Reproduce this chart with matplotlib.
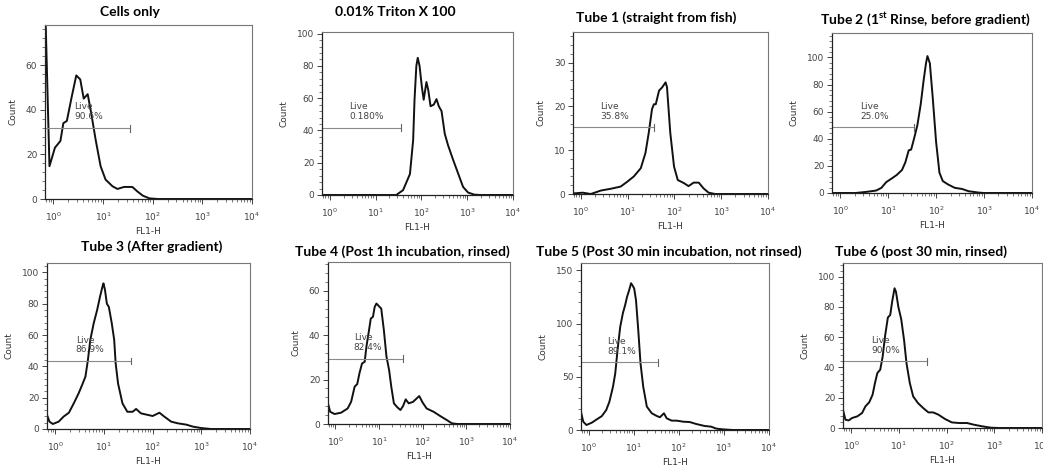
import numpy as np
import matplotlib
matplotlib.use("Agg")
import matplotlib.pyplot as plt
from matplotlib.ticker import MultipleLocator, LogLocator, NullFormatter

W, H = 1043, 466

# ---- data: x in log10(FL1-H), y = count ----
cells_x = [-0.17, -0.08, 0.03, 0.14, 0.2, 0.27, 0.37, 0.46, 0.54, 0.61, 0.69, 0.76, 0.85, 0.95,
           1.05, 1.19, 1.29, 1.42, 1.59, 1.69, 1.8, 1.93, 2.1, 4.0]
cells_y = [90, 14.7, 23, 26, 34, 35, 46, 55.4, 53.6, 45, 47, 38.6, 26.6, 14.7,
           8.7, 5.7, 4.5, 5.4, 5.4, 3.4, 1.5, 0.3, 0, 0]

triton_x = [-0.17, 1.45, 1.6, 1.75, 1.82, 1.85, 1.89, 1.92, 1.96, 2.01, 2.05, 2.11, 2.15, 2.2,
            2.27, 2.33, 2.38, 2.44, 2.51, 2.58, 2.69, 2.8, 2.91, 3.02, 3.16, 3.3, 4.0]
triton_y = [0, 0, 3, 13, 34, 59, 80, 85, 80, 67, 59, 70, 65, 55,
            56, 59.4, 55, 52, 38, 31, 22, 13.5, 5, 1.5, 0.2, 0, 0]

tube1_x = [-0.17, -0.14, 0.04, 0.21, 0.43, 0.64, 0.85, 0.99, 1.13, 1.28, 1.38, 1.45, 1.52, 1.56,
           1.6, 1.67, 1.74, 1.81, 1.84, 1.91, 1.99, 2.07, 2.2, 2.3, 2.41, 2.52, 2.62, 2.73, 2.87, 4.0]
tube1_y = [0.1, 0.15, 0.3, 0, 0.8, 1.2, 1.7, 2.8, 4, 5.9, 9.4, 14, 19.4, 20.5,
           20.5, 23.6, 24.4, 25.5, 24.4, 14, 6.3, 3.2, 2.5, 1.8, 2.6, 2.6, 1.3, 0.3, 0, 0]

tube2_x = [-0.17, 0.32, 0.54, 0.75, 0.86, 0.96, 1.07, 1.18, 1.29, 1.36, 1.43, 1.48, 1.54, 1.61,
           1.68, 1.74, 1.79, 1.82, 1.87, 1.93, 2.0, 2.07, 2.14, 2.25, 2.39, 2.54, 2.68, 2.89, 3.0, 4.0]
tube2_y = [0, 0, 0.8, 1.8, 3.8, 8, 10.6, 13.3, 17, 22.7, 31.5, 32, 40, 50,
           65.5, 83, 95.7, 101, 95.7, 70.5, 37.8, 15, 8.8, 6.3, 3.8, 3, 1.3, 0.3, 0, 0]

tube3_x = [-0.17, -0.12, -0.05, 0.07, 0.17, 0.28, 0.38, 0.48, 0.55, 0.62, 0.67, 0.72, 0.79, 0.86,
           0.92, 0.97, 0.99, 1.02, 1.06, 1.1, 1.16, 1.21, 1.24, 1.29, 1.38, 1.48, 1.59, 1.66, 1.76,
           1.9, 2.0, 2.14, 2.24, 2.38, 2.52, 2.69, 2.83, 3.0, 3.2, 4.0]
tube3_y = [9, 4.7, 3.2, 4.7, 7.9, 10.4, 16.4, 22.8, 28, 33.5, 44, 57, 67.6, 76,
           84.6, 91, 93, 89, 80, 78, 67.6, 57, 42, 29, 16.4, 11, 11, 12.8, 10,
           9, 8.3, 10.4, 7.9, 4.7, 3.6, 2.8, 1.5, 0.6, 0, 0]

tube4_x = [-0.18, -0.12, -0.02, 0.13, 0.28, 0.36, 0.44, 0.5, 0.55, 0.61, 0.67, 0.71, 0.77, 0.81,
           0.86, 0.9, 0.94, 1.0, 1.05, 1.11, 1.17, 1.23, 1.28, 1.34, 1.42, 1.49, 1.55, 1.61, 1.68,
           1.78, 1.86, 1.92, 2.0, 2.09, 2.25, 2.4, 2.55, 2.67, 2.8, 4.0]
tube4_y = [10, 5.5, 4.5, 5.1, 7, 10, 16.8, 18, 22.8, 27.3, 28, 34.8, 42.3, 47.5,
           48.3, 52.8, 54.3, 53, 52, 42.3, 30.3, 24.3, 16.8, 9.3, 7.5, 6.3, 8.1, 11.1, 9.3,
           10, 11.5, 12.6, 9.6, 7, 5.5, 3.6, 1.8, 0.3, 0, 0]

tube5_x = [-0.17, -0.12, -0.05, 0.07, 0.18, 0.29, 0.39, 0.46, 0.54, 0.59, 0.64, 0.7, 0.76, 0.81,
           0.85, 0.9, 0.94, 0.98, 1.01, 1.05, 1.1, 1.15, 1.21, 1.29, 1.4, 1.51, 1.58, 1.67, 1.73,
           1.84, 1.95, 2.1, 2.24, 2.39, 2.57, 2.72, 2.83, 2.98, 3.2, 4.0]
tube5_y = [17, 7.8, 4.7, 6.9, 10, 13, 18.8, 26.6, 40.8, 53.3, 75, 97, 110, 117.6,
           125, 131.7, 138, 135.4, 133, 122, 94, 62.7, 40.8, 22, 15.7, 13.2, 12, 15.7, 11,
           8.8, 8.8, 7.8, 7.5, 5.6, 3.8, 3.1, 1.3, 0.6, 0, 0]

tube6_x = [-0.17, -0.12, -0.05, 0.02, 0.13, 0.23, 0.3, 0.38, 0.45, 0.5, 0.55, 0.61, 0.66, 0.71,
           0.77, 0.82, 0.86, 0.91, 0.94, 0.99, 1.05, 1.11, 1.16, 1.23, 1.3, 1.4, 1.51, 1.62, 1.72,
           1.83, 1.97, 2.11, 2.26, 2.43, 2.57, 2.75, 2.93, 3.1, 4.0]
tube6_y = [12, 5.5, 5, 6.6, 7.7, 9.9, 14.3, 17, 22, 29.7, 36.3, 38.5, 47, 60.4,
           73, 74.7, 83.5, 92.3, 90, 80, 71.9, 58, 42.9, 29.7, 20.9, 16.5, 13.2, 10.3, 10.3,
           8.8, 5.9, 3.7, 3.3, 3.3, 2.2, 1.1, 0.2, 0, 0]

titles = ["Cells only", "0.01% Triton X 100", "Tube 1 (straight from fish)",
          r"Tube 2 (1$^{\mathbf{st}}$ Rinse, before gradient)",
          "Tube 3 (After gradient)", "Tube 4 (Post 1h incubation, rinsed)",
          "Tube 5 (Post 30 min incubation, not rinsed)", "Tube 6 (post 30 min, rinsed)"]
live_pct = ["90.6%", "0.180%", "35.8%", "25.0%", "86.9%", "82.4%", "89.1%", "90.0%"]
gate_count = [31.8, 41.8, 15.2, 48.4, 43.5, 29.5, 63.6, 44.0]
gate_end = [1.55, 1.55, 1.56, 1.55, 1.55, 1.54, 1.54, 1.58]
y_max = [78, 101, 37, 118, 106, 73, 157, 109]
y_step = [20, 20, 10, 20, 20, 20, 50, 20]

xs = [cells_x, triton_x, tube1_x, tube2_x, tube3_x, tube4_x, tube5_x, tube6_x]
ys = [cells_y, triton_y, tube1_y, tube2_y, tube3_y, tube4_y, tube5_y, tube6_y]

# axes boxes in pixels: left, right, top, bottom
boxes = [(45, 252, 25, 199), (322, 513, 32, 195), (573, 768, 32, 194), (832, 1032, 33, 193),
         (47, 250, 263, 429), (328, 510, 262, 424), (581, 769, 263, 430), (843, 1042, 263, 428)]
# title centres in pixels
title_pos = [(130, 12), (395, 12), (656, 18), (926, 19),
             (152, 247), (402, 252), (669, 252), (921, 252)]

plt.rcParams["mathtext.fontset"] = "custom"
plt.rcParams["mathtext.bf"] = "Lato:bold"

fig = plt.figure(figsize=(W / 100, H / 100), dpi=100)
tick_col = "#444444"

for i in range(8):
    l, r, t, b = boxes[i]
    ax = fig.add_axes([l / W, 1 - b / H, (r - l) / W, (b - t) / H])
    x = np.power(10.0, xs[i])
    ax.plot(x, ys[i], color="#111111", lw=1.4, clip_on=True)
    ax.set_xscale("log")
    ax.set_xlim(10 ** -0.17, 1e4)
    ax.set_ylim(0, y_max[i])

    ax.xaxis.set_major_locator(LogLocator(base=10, numticks=10))
    ax.xaxis.set_minor_locator(LogLocator(base=10, subs=np.arange(2, 10), numticks=20))
    ax.xaxis.set_minor_formatter(NullFormatter())
    ax.yaxis.set_major_locator(MultipleLocator(y_step[i]))
    ax.yaxis.set_minor_locator(MultipleLocator(y_step[i] / 5))
    ax.tick_params(which="major", length=3.5, width=0.7, color=tick_col,
                   labelsize=6.5, labelcolor="#444444", pad=2)
    ax.tick_params(axis="x", which="major", pad=5)
    ax.tick_params(which="minor", length=2, width=0.5, color=tick_col)
    for s in ["top", "right"]:
        ax.spines[s].set_color("#777777")
        ax.spines[s].set_linewidth(0.8)
    for s in ["left", "bottom"]:
        ax.spines[s].set_color("#222222")
        ax.spines[s].set_linewidth(0.9)

    ax.set_xlabel("FL1-H", fontsize=6.5, color="#333333", labelpad=3)
    ax.set_ylabel("Count", fontsize=6.5, color="#333333", labelpad=6)

    # Live gate
    gx0 = 10 ** -0.17
    gx1 = 10 ** gate_end[i]
    g = gate_count[i]
    ax.plot([gx0, gx1], [g, g], color="#8a8a8a", lw=0.8)
    ax.plot([gx1, gx1], [g - y_max[i] * 0.02, g + y_max[i] * 0.02], color="#666666", lw=0.8)
    ax.text(10 ** 0.42, g + y_max[i] * 0.04, "Live\n" + live_pct[i], fontsize=6.5,
            color="#444444", ha="left", va="bottom", linespacing=1.1)

    tx, ty = title_pos[i]
    fig.text(tx / W, 1 - ty / H, titles[i], fontsize=10, fontweight="bold",
             family="Lato", ha="center", va="center")

fig.savefig("out.png", dpi=100)
